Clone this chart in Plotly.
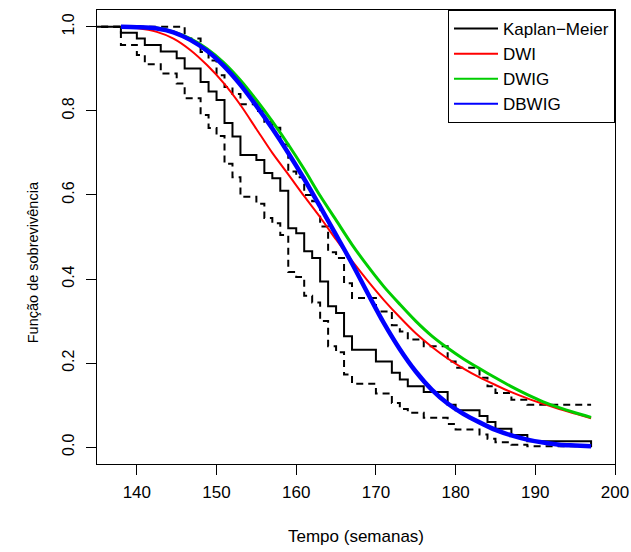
import plotly.graph_objects as go

# ---------------- data ----------------
# Kaplan-Meier estimate (step function: level after each time)
km_time = [0, 138, 140, 141, 143, 145, 146, 148, 149, 150, 151, 152, 153, 155, 156, 157,
           158, 159, 160, 161, 162, 163, 164, 165, 166, 167, 170, 172, 173, 174, 176, 179,
           180, 183, 184, 185, 187, 189, 197]
km_surv = [1.0, 0.986, 0.972, 0.957, 0.941, 0.925, 0.901, 0.869, 0.846, 0.826, 0.771, 0.739,
           0.695, 0.683, 0.652, 0.640, 0.610, 0.521, 0.509, 0.466, 0.450, 0.394, 0.335, 0.319,
           0.264, 0.232, 0.204, 0.177, 0.161, 0.145, 0.131, 0.101, 0.088, 0.074, 0.060, 0.044,
           0.029, 0.014, 0.0]

# Upper confidence band of KM
up_time = [0, 146, 148, 149, 150, 151, 152, 153, 155, 156, 157, 158, 159, 160, 161, 162, 163,
           164, 165, 166, 167, 170, 172, 173, 174, 176, 179, 180, 183, 184, 185, 187, 189, 197]
up_surv = [1.0, 0.972, 0.940, 0.920, 0.885, 0.857, 0.840, 0.816, 0.800, 0.774, 0.760, 0.720,
           0.656, 0.642, 0.600, 0.585, 0.525, 0.464, 0.450, 0.390, 0.355, 0.323, 0.290, 0.275,
           0.256, 0.240, 0.204, 0.189, 0.165, 0.145, 0.129, 0.113, 0.101, 0.101]

# Lower confidence band of KM
lo_time = [0, 138, 140, 141, 143, 145, 146, 148, 149, 150, 151, 152, 153, 155, 156, 157, 158,
           159, 160, 161, 162, 163, 164, 165, 166, 167, 170, 172, 173, 174, 176, 179, 180, 183,
           184, 185, 187, 189, 197]
lo_surv = [1.0, 0.957, 0.933, 0.911, 0.889, 0.865, 0.830, 0.790, 0.759, 0.740, 0.674, 0.642,
           0.596, 0.579, 0.545, 0.533, 0.505, 0.417, 0.405, 0.360, 0.344, 0.300, 0.240, 0.226,
           0.173, 0.151, 0.128, 0.105, 0.091, 0.082, 0.070, 0.055, 0.042, 0.030, 0.020, 0.012,
           0.006, 0.002, 0.002]

# Fitted survival curves
fit_t = [138, 140, 142.5, 144.6, 146.7, 148.8, 150.9, 153, 155, 157, 159, 161, 163, 165, 167,
         169, 171, 173, 175, 177, 179, 181, 183, 185, 187, 189, 191, 193, 195, 197]
dwi_s = [1.0, 0.997, 0.988, 0.972, 0.945, 0.909, 0.866, 0.814, 0.757, 0.700, 0.649, 0.597,
         0.547, 0.494, 0.443, 0.395, 0.350, 0.309, 0.271, 0.239, 0.211, 0.187, 0.166, 0.148,
         0.131, 0.116, 0.103, 0.091, 0.080, 0.069]
dwig_s = [1.0, 0.999, 0.997, 0.988, 0.972, 0.948, 0.915, 0.873, 0.826, 0.775, 0.720, 0.661,
          0.598, 0.540, 0.482, 0.430, 0.382, 0.340, 0.300, 0.265, 0.236, 0.210, 0.187, 0.165,
          0.144, 0.125, 0.108, 0.094, 0.082, 0.071]
dbwig_s = [1.0, 0.999, 0.996, 0.987, 0.969, 0.943, 0.907, 0.862, 0.812, 0.758, 0.700, 0.638,
           0.572, 0.505, 0.437, 0.365, 0.295, 0.233, 0.180, 0.137, 0.104, 0.079, 0.059, 0.041,
           0.028, 0.018, 0.011, 0.006, 0.004, 0.002]

legend_names = ["Kaplan\u2212Meier", "DWI", "DWIG", "DBWIG"]
legend_colors = ["#000000", "#FF0000", "#00CD00", "#0000FF"]

x_ticks = [140, 150, 160, 170, 180, 190, 200]
y_ticks = [0.0, 0.2, 0.4, 0.6, 0.8, 1.0]

x_title = "Tempo (semanas)"
y_title = "Função de sobrevivência"

FONT = "Liberation Sans, Arial, Helvetica, sans-serif"

fig = go.Figure()

dash_style = dict(shape="hv", color="black", width=2, dash="7px,5px")
fig.add_trace(go.Scatter(x=up_time, y=up_surv, mode="lines", line=dash_style,
                         showlegend=False, hoverinfo="skip"))
fig.add_trace(go.Scatter(x=lo_time, y=lo_surv, mode="lines", line=dash_style,
                         showlegend=False, hoverinfo="skip"))
fig.add_trace(go.Scatter(x=km_time, y=km_surv, mode="lines",
                         line=dict(shape="hv", color="black", width=2), showlegend=False))

fig.add_trace(go.Scatter(x=fit_t, y=dwi_s, mode="lines",
                         line=dict(shape="spline", smoothing=0.8, color="#FF0000", width=2),
                         showlegend=False))
fig.add_trace(go.Scatter(x=fit_t, y=dwig_s, mode="lines",
                         line=dict(shape="spline", smoothing=0.8, color="#00CD00", width=3),
                         showlegend=False))
fig.add_trace(go.Scatter(x=fit_t, y=dbwig_s, mode="lines",
                         line=dict(shape="spline", smoothing=0.8, color="#0000FF", width=4.5),
                         showlegend=False))

# legend entries (uniform thin lines as in the original legend)
for name, col in zip(legend_names, legend_colors):
    fig.add_trace(go.Scatter(x=[None], y=[None], mode="lines", name=name,
                             line=dict(color=col, width=2)))

axis_common = dict(showline=True, linecolor="black", linewidth=1, mirror=True,
                   ticks="outside", ticklen=10, tickwidth=1, tickcolor="black",
                   showgrid=False, zeroline=False, automargin=False)

fig.update_layout(
    width=631, height=552,
    margin=dict(l=97, r=16, t=10, b=88),
    paper_bgcolor="white", plot_bgcolor="white",
    font=dict(family=FONT, color="black"),
    xaxis=dict(range=[135, 200], tickvals=x_ticks, ticktext=[str(v) for v in x_ticks],
               tickfont=dict(size=17), ticklabelstandoff=3,
               title=dict(text=x_title, font=dict(size=17), standoff=28),
               **axis_common),
    yaxis=dict(range=[-0.04, 1.04], tickvals=y_ticks, ticktext=[f"{v:.1f}" for v in y_ticks],
               tickangle=-90, tickfont=dict(size=16), ticklabelstandoff=6,
               **axis_common),
    legend=dict(x=1, y=1, xanchor="right", yanchor="top", bgcolor="white",
                bordercolor="black", borderwidth=1, font=dict(size=17, family=FONT),
                itemwidth=44, tracegroupgap=0),
    showlegend=True,
)

# y-axis title (placed as in the original, slightly below the panel centre)
fig.add_annotation(text=y_title, textangle=-90, xref="paper", yref="paper",
                   x=-0.123, y=0.445, xanchor="center", yanchor="middle",
                   showarrow=False, font=dict(size=14.5, family=FONT, color="black"))

fig.write_html("out.html")
